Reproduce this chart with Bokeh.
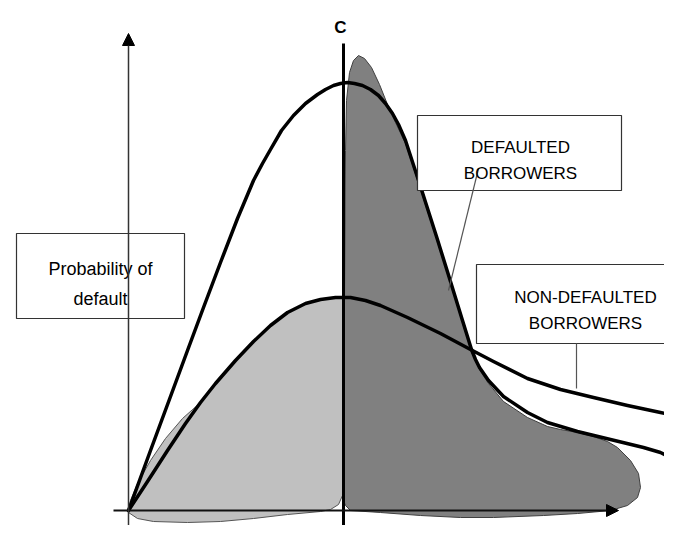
from bokeh.plotting import figure
from bokeh.models import Range1d, Arrow, NormalHead
from bokeh.core.properties import value
from bokeh.embed import file_html
from bokeh.resources import INLINE

# Schematic values (score on x, density on y; y grows downward as in the picture)
tall_x = [128, 150, 170, 187, 203, 220, 237, 253, 262, 270, 281, 293, 305, 317, 325, 333, 340, 347, 354, 362, 370, 378,
          385, 392, 398, 405, 420, 436, 450, 462, 471, 475, 479, 488, 503, 527, 547, 577, 610, 643, 660, 670]
tall_y = [510, 450, 396, 350, 307, 262, 218, 180, 163, 149, 130, 115, 103, 94, 89, 85, 83, 82, 83, 85, 89, 95,
          103, 113, 124, 140, 186, 236, 281, 320, 349, 359, 367, 380, 396, 412, 422, 431, 439, 447, 452, 457]

low_x = [128, 147, 167, 185, 200, 215, 235, 253, 270, 287, 305, 320, 335, 350, 365, 380, 407, 440, 470, 493, 527, 560, 593, 627, 660, 690]
low_y = [510, 481, 450, 423, 402, 383, 360, 341, 325, 312, 303, 299, 297, 297, 300, 305, 317, 333, 349, 361, 378, 389, 397, 405, 412, 419]

dark_x = [343, 344, 344, 345, 346, 349, 353, 358, 364, 371, 379, 387, 395, 405, 420, 436, 450, 462, 471, 479, 488, 503, 527, 547, 560, 577, 593, 607, 617, 630, 638, 640, 637, 627, 610, 577, 543, 493, 460, 420, 380, 350, 345]
dark_y = [500, 480, 300, 150, 100, 72, 60, 55, 58, 67, 84, 104, 122, 143, 189, 238, 283, 322, 351, 369, 383, 401, 417, 426, 429, 432, 436, 441, 447, 460, 473, 487, 497, 505, 510, 513, 515, 517, 517, 515, 512, 510, 505]

light_x = [128, 130, 137, 150, 165, 182, 200, 215, 235, 253, 270, 287, 305, 320, 335, 342, 343, 343, 342, 338, 330, 320, 287, 253, 220, 187, 153, 137, 128]
light_y = [510, 500, 483, 460, 438, 418, 402, 383, 360, 341, 325, 312, 303, 299, 297, 297, 320, 480, 495, 504, 509, 511, 514, 518, 521, 522, 521, 518, 512]

# cut-off score C
c_score = 343
c_span = [43, 528]

# axes (origin, ends)
x_axis = dict(x0=113, x1=618, y=510)
y_axis = dict(x=128, y0=545, y1=33)

# label boxes: left, right, top, bottom
box_left = [16, 417, 476]
box_right = [184, 621, 672]
box_top = [233, 115, 264]
box_bottom = [318, 190, 343]

# pointer lines from labels to curves
ptr_x0 = [478, 576]
ptr_y0 = [168, 343]
ptr_x1 = [448, 576]
ptr_y1 = [290, 388]

# texts
lab1_text = ["Probability of", "default"]
lab1_x = [100, 100]
lab1_y = [268, 298]
lab2_text = ["DEFAULTED", "BORROWERS", "NON-DEFAULTED", "BORROWERS"]
lab2_x = [520, 520, 585, 585]
lab2_y = [147, 173, 297, 323]

FONT = "Liberation Sans"

p = figure(width=664, height=525, output_backend="svg", toolbar_location=None,
           x_range=Range1d(0, 664), y_range=Range1d(525, 0),
           min_border=0, outline_line_color=None)
p.axis.visible = False
p.grid.visible = False
p.background_fill_color = "white"
p.border_fill_color = "white"

p.patch(light_x, light_y, fill_color="#c0c0c0", line_color="#555555", line_width=1, line_join="round")
p.patch(dark_x, dark_y, fill_color="#808080", line_color="#404040", line_width=1, line_join="round")

p.segment(x0=[c_score], y0=[c_span[0]], x1=[c_score], y1=[c_span[1]], line_color="black", line_width=3)

p.add_layout(Arrow(end=NormalHead(size=12, fill_color="black", line_color="black"),
                   x_start=x_axis["x0"], y_start=x_axis["y"], x_end=x_axis["x1"], y_end=x_axis["y"],
                   line_color="#111111", line_width=2))
p.add_layout(Arrow(end=NormalHead(size=12, fill_color="black", line_color="black"),
                   x_start=y_axis["x"], y_start=y_axis["y0"], x_end=y_axis["x"], y_end=y_axis["y1"],
                   line_color="#333333", line_width=1.5))

p.line(low_x, low_y, line_color="black", line_width=3.5, line_join="round", line_cap="round")
p.line(tall_x, tall_y, line_color="black", line_width=3.5, line_join="round", line_cap="round")

p.quad(left=box_left, right=box_right, top=box_top, bottom=box_bottom,
       fill_color="white", line_color="#333333", line_width=1.2)

p.segment(x0=ptr_x0, y0=ptr_y0, x1=ptr_x1, y1=ptr_y1, line_color="#555555", line_width=1.2)

p.text(x=lab1_x, y=lab1_y, text=lab1_text, text_font=value(FONT), text_font_size="18px",
       text_align="center", text_baseline="alphabetic", text_color="black")
p.text(x=lab2_x, y=lab2_y, text=lab2_text, text_font=value(FONT), text_font_size="17px",
       text_align="center", text_baseline="alphabetic", text_color="black")

p.text(x=[c_score - 3], y=[27], text=["C"], text_font=value(FONT), text_font_size="17px",
       text_font_style="bold", text_align="center", text_baseline="alphabetic", text_color="black")

open("out.html", "w").write(file_html(p, INLINE))
